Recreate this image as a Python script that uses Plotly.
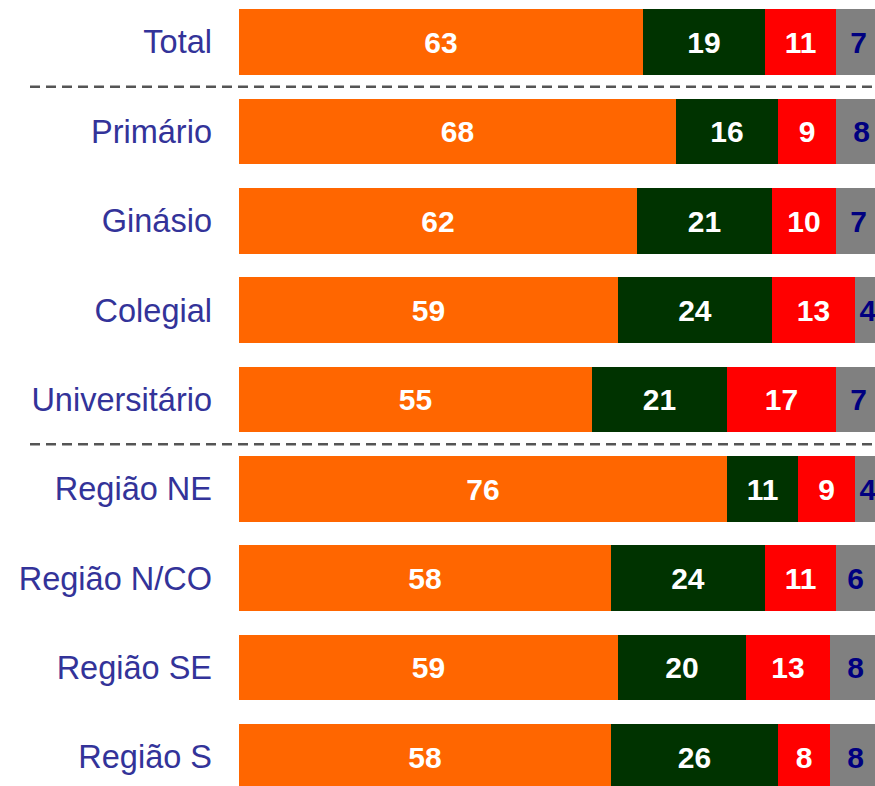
import plotly.graph_objects as go

categories = ["Total", "Primário", "Ginásio", "Colegial", "Universitário",
              "Região NE", "Região N/CO", "Região SE", "Região S"]
series_1 = [63, 68, 62, 59, 55, 76, 58, 59, 58]
series_2 = [19, 16, 21, 24, 21, 11, 24, 20, 26]
series_3 = [11, 9, 10, 13, 17, 9, 11, 13, 8]
series_4 = [7, 8, 7, 4, 7, 4, 6, 8, 8]
separators_after = [0, 4]  # dashed lines after these category indices

series = [
    (series_1, "#FF6600", "#FFFFFF"),
    (series_2, "#003300", "#FFFFFF"),
    (series_3, "#FF0000", "#FFFFFF"),
    (series_4, "#808080", "#000080"),
]

fig = go.Figure()
for vals, color, tcolor in series:
    fig.add_trace(go.Bar(
        y=categories, x=vals, orientation="h",
        marker=dict(color=color, line=dict(width=0)),
        width=0.735,
        text=[str(v) for v in vals],
        texttemplate="%{text}",
        textposition="inside",
        insidetextanchor="middle",
        textangle=0,
        textfont=dict(family="Liberation Sans, Arial, sans-serif", size=30,
                      color=tcolor, weight="bold"),
        hoverinfo="skip",
        showlegend=False,
    ))

for idx in separators_after:
    fig.add_shape(type="line", xref="paper", yref="y",
                  x0=(30 - 239) / 636, x1=1.0, y0=idx + 0.5, y1=idx + 0.5,
                  line=dict(color="#555555", width=2.5, dash="10px,6px"))

fig.update_layout(
    barmode="stack",
    width=875, height=786,
    margin=dict(l=239, r=0, t=0, b=0),
    paper_bgcolor="white", plot_bgcolor="white",
    bargap=0,
    xaxis=dict(range=[0, 636 / 6.42], visible=False, fixedrange=True),
    yaxis=dict(
        type="category",
        categoryorder="array", categoryarray=categories,
        range=[8.3245, -0.47],
        showgrid=False, zeroline=False, showline=False, ticks="",
        tickfont=dict(family="Liberation Sans, Arial, sans-serif", size=32.5,
                      color="#333399"),
        ticklabelstandoff=26,
    ),
)

fig.write_html("out.html",
               config={"displayModeBar": False},
               post_script="document.body.style.margin='0';document.body.style.overflow='hidden';")
